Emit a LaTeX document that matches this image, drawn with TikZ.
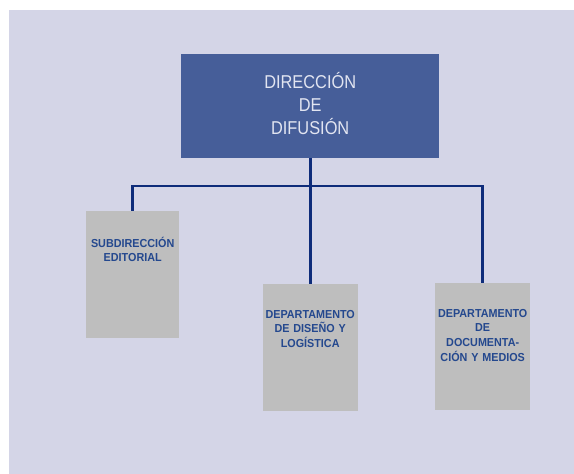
\documentclass[tikz,border=0pt]{standalone}
\usepackage{fontspec}
\setmainfont{Liberation Sans}
\newfontfamily\headfont{Liberation Sans}[FakeStretch=0.88]
\newfontfamily\unitfont{Liberation Sans}[FakeStretch=0.93]
\definecolor{lavender}{RGB}{212,213,231}
\definecolor{headblue}{RGB}{70,94,153}
\definecolor{headtext}{RGB}{226,229,241}
\definecolor{unitgray}{RGB}{190,190,190}
\definecolor{unitblue}{RGB}{36,72,142}
\definecolor{linkblue}{RGB}{14,44,122}

\begin{document}
\begin{tikzpicture}[
  x=1pt, y=-1pt,
  head/.style={fill=headblue, text=headtext, text width=258pt, align=center, inner sep=0pt, text height=34pt, text depth=70pt, font=\headfont\fontsize{18.6}{23}\selectfont},
  unit/.style={fill=unitgray, text=unitblue, text width=95pt, align=center, inner sep=0pt, text height=34pt, text depth=93pt, font=\unitfont\bfseries\fontsize{11.6}{14.6}\selectfont},
  link/.style={draw=linkblue, line width=2.8pt}
]
  \fill[lavender] (9,10) rectangle (574,474);
  \useasboundingbox (0,0) rectangle (574,474);
  % boxes
  \node[head, anchor=north west] (dir) at (181,54) {DIRECCIÓN\\DE\\DIFUSIÓN};
  \node[unit, text width=93pt, text height=36pt, text depth=91pt, anchor=north west] (sub) at (86,211) {SUBDIRECCIÓN\\EDITORIAL};
  \node[unit, anchor=north west] (dis) at (262.5,284) {DEPARTAMENTO\\DE DISEÑO Y\\LOGÍSTICA};
  \node[unit, anchor=north west] (doc) at (435,283) {DEPARTAMENTO\\DE\\DOCUMENTA-\\CIÓN Y MEDIOS};
  % connectors
  \coordinate (bus) at (310,186);
  \foreach \c in {sub,dis,doc} \draw[link] (dir.south) |- (bus) -| (\c.north);
\end{tikzpicture}
\end{document}
